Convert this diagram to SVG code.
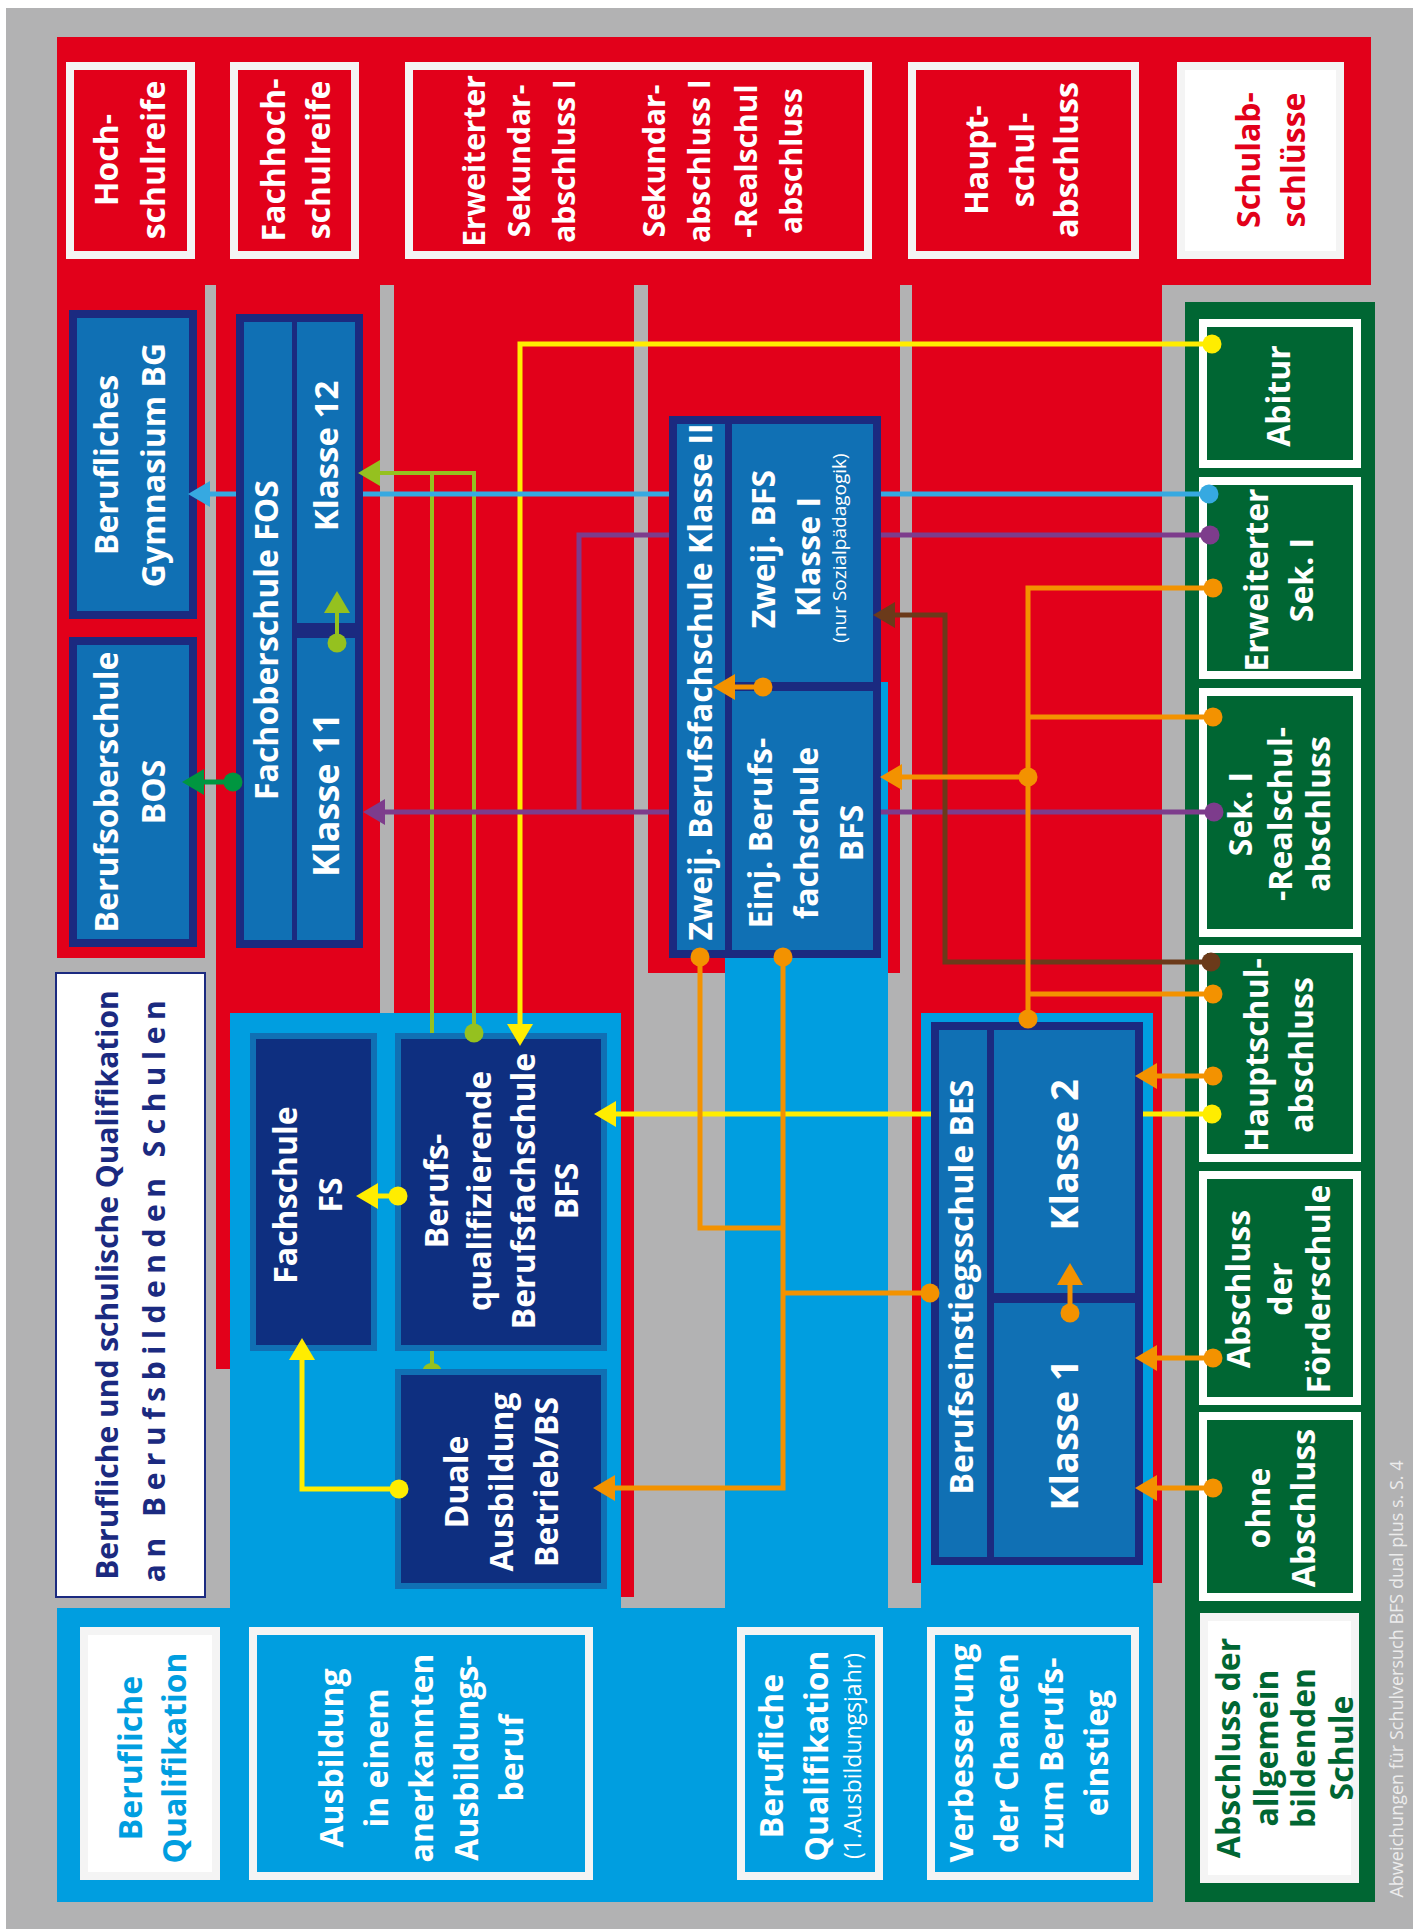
<svg xmlns="http://www.w3.org/2000/svg" width="1417" height="1929" viewBox="0 0 1417 1929">
<defs>
<style>
.t{font-family:"Open Sans","Noto Sans","DejaVu Sans",sans-serif;font-weight:700;font-size:32px;fill:#fff;text-anchor:middle}
.sm{font-weight:400;font-size:19px}
.fn{font-family:"Open Sans","Noto Sans","DejaVu Sans",sans-serif;font-weight:400;font-size:18px;fill:#ececec;text-anchor:middle}
.tr{fill:#e2001a}.tn{fill:#1b2a80}.tg{fill:#006633}.tb{fill:#009ee0}
.red{fill:#e2001a}.lb{fill:#009ee0}
.hdr{fill:#e2001a;stroke:#f4f4f4;stroke-width:8}
.bx{fill:#1070b4;stroke:#1b2a80;stroke-width:8}
.dv{fill:#1b2a80}
.nb{fill:#0e2f80;stroke:#1070b4;stroke-width:6}
.gb{fill:#006633;stroke:#fff;stroke-width:8}
.wb{fill:#fff;stroke:#f4f4f4;stroke-width:8}
.lbb{fill:#009ee0;stroke:#f4f4f4;stroke-width:8}
.cn{fill:none;stroke-width:5}
.cy{stroke:#ffed00}.cl{stroke:#95c11f;stroke-width:4}.cc{stroke:#36a9e1}.cp{stroke:#7d3c8c}.cb{stroke:#6b3a1a}.co{stroke:#f39200}.cg{stroke:#009640}
</style>
<marker id="ay" markerUnits="userSpaceOnUse" markerWidth="24" markerHeight="28" viewBox="0 -14 24 28" refX="0" refY="0" orient="auto"><path d="M0,-13 L22,0 L0,13 z" fill="#ffed00"/></marker>
<marker id="dy" markerUnits="userSpaceOnUse" markerWidth="22" markerHeight="22" viewBox="-11 -11 22 22" refX="0" refY="0"><circle r="9.5" fill="#ffed00"/></marker>
<marker id="al" markerUnits="userSpaceOnUse" markerWidth="24" markerHeight="28" viewBox="0 -14 24 28" refX="0" refY="0" orient="auto"><path d="M0,-13 L22,0 L0,13 z" fill="#95c11f"/></marker>
<marker id="dl" markerUnits="userSpaceOnUse" markerWidth="22" markerHeight="22" viewBox="-11 -11 22 22" refX="0" refY="0"><circle r="9.5" fill="#95c11f"/></marker>
<marker id="ac" markerUnits="userSpaceOnUse" markerWidth="24" markerHeight="28" viewBox="0 -14 24 28" refX="0" refY="0" orient="auto"><path d="M0,-13 L22,0 L0,13 z" fill="#36a9e1"/></marker>
<marker id="dc" markerUnits="userSpaceOnUse" markerWidth="22" markerHeight="22" viewBox="-11 -11 22 22" refX="0" refY="0"><circle r="9.5" fill="#36a9e1"/></marker>
<marker id="ap" markerUnits="userSpaceOnUse" markerWidth="24" markerHeight="28" viewBox="0 -14 24 28" refX="0" refY="0" orient="auto"><path d="M0,-13 L22,0 L0,13 z" fill="#7d3c8c"/></marker>
<marker id="dp" markerUnits="userSpaceOnUse" markerWidth="22" markerHeight="22" viewBox="-11 -11 22 22" refX="0" refY="0"><circle r="9.5" fill="#7d3c8c"/></marker>
<marker id="ab" markerUnits="userSpaceOnUse" markerWidth="24" markerHeight="28" viewBox="0 -14 24 28" refX="0" refY="0" orient="auto"><path d="M0,-13 L22,0 L0,13 z" fill="#6b3a1a"/></marker>
<marker id="db" markerUnits="userSpaceOnUse" markerWidth="22" markerHeight="22" viewBox="-11 -11 22 22" refX="0" refY="0"><circle r="9.5" fill="#6b3a1a"/></marker>
<marker id="ao" markerUnits="userSpaceOnUse" markerWidth="24" markerHeight="28" viewBox="0 -14 24 28" refX="0" refY="0" orient="auto"><path d="M0,-13 L22,0 L0,13 z" fill="#f39200"/></marker>
<marker id="do" markerUnits="userSpaceOnUse" markerWidth="22" markerHeight="22" viewBox="-11 -11 22 22" refX="0" refY="0"><circle r="9.5" fill="#f39200"/></marker>
<marker id="ag" markerUnits="userSpaceOnUse" markerWidth="24" markerHeight="28" viewBox="0 -14 24 28" refX="0" refY="0" orient="auto"><path d="M0,-13 L22,0 L0,13 z" fill="#009640"/></marker>
<marker id="dg" markerUnits="userSpaceOnUse" markerWidth="22" markerHeight="22" viewBox="-11 -11 22 22" refX="0" refY="0"><circle r="9.5" fill="#009640"/></marker>
</defs>

<g id="background">
<rect x="0" y="0" width="1417" height="1929" fill="#fff"/>
<rect x="6" y="8" width="1407" height="1921" fill="#b2b2b3"/>
<rect class="red" x="57" y="37" width="1314" height="248"/>
<rect class="red" x="57" y="284" width="148" height="674"/>
<rect class="red" x="216" y="284" width="164" height="1085"/>
<rect class="red" x="394" y="284" width="240" height="1313"/>
<rect class="red" x="648" y="284" width="252" height="689"/>
<rect class="red" x="912" y="284" width="250" height="1299"/>
<rect class="lb" x="230" y="1013" width="391" height="595"/>
<rect class="lb" x="725" y="682" width="163" height="926"/>
<rect class="lb" x="921" y="1013" width="232" height="889"/>
<rect class="lb" x="57" y="1608" width="1096" height="294"/>
<rect x="1185" y="302" width="190" height="1600" fill="#006633"/>
</g>

<g id="h-hochschulreife"><rect class="hdr" x="70" y="66" width="121" height="189"/>
<text class="t" transform="translate(0,160) rotate(-90)"><tspan x="0" y="118">Hoch-</tspan><tspan x="0" y="165">schulreife</tspan></text></g>
<g id="h-fachhochschulreife"><rect class="hdr" x="234" y="66" width="121" height="189"/>
<text class="t" transform="translate(0,160) rotate(-90)"><tspan x="0" y="285">Fachhoch-</tspan><tspan x="0" y="330">schulreife</tspan></text></g>
<g id="h-sekundar"><rect class="hdr" x="409" y="66" width="459" height="189"/>
<text class="t" style="font-size:30px" transform="translate(0,161) rotate(-90)"><tspan x="0" y="485">Erweiterter</tspan><tspan x="0" y="530">Sekundar-</tspan><tspan x="0" y="575">abschluss I</tspan><tspan x="0" y="665">Sekundar-</tspan><tspan x="0" y="710">abschluss I</tspan><tspan x="0" y="757">-Realschul</tspan><tspan x="0" y="802">abschluss</tspan></text></g>
<g id="h-hauptschulabschluss"><rect class="hdr" x="912" y="66" width="223" height="189"/>
<text class="t" transform="translate(0,160) rotate(-90)"><tspan x="0" y="988">Haupt-</tspan><tspan x="0" y="1034">schul-</tspan><tspan x="0" y="1078">abschluss</tspan></text></g>
<g id="h-schulabschluesse"><rect class="wb" x="1181" y="66" width="159" height="189"/>
<text class="t tr" transform="translate(0,160) rotate(-90)"><tspan x="0" y="1260">Schulab-</tspan><tspan x="0" y="1305">schlüsse</tspan></text></g>

<g id="n-bg"><rect class="bx" x="73" y="314" width="120" height="301"/>
<text class="t" transform="translate(0,465) rotate(-90)"><tspan x="0" y="118">Berufliches</tspan><tspan x="0" y="165">Gymnasium BG</tspan></text></g>
<g id="n-bos"><rect class="bx" x="73" y="641" width="120" height="302"/>
<text class="t" transform="translate(0,792) rotate(-90)"><tspan x="0" y="118">Berufsoberschule</tspan><tspan x="0" y="165">BOS</tspan></text></g>
<g id="n-fos"><rect class="bx" x="240" y="318" width="119" height="626"/>
<rect class="dv" x="292" y="318" width="5" height="626"/>
<rect class="dv" x="297" y="623" width="62" height="15"/>
<text class="t" transform="translate(0,640) rotate(-90)"><tspan x="0" y="278">Fachoberschule FOS</tspan></text>
<text class="t" style="font-size:33px" transform="translate(0,456) rotate(-90)"><tspan x="0" y="338">Klasse 12</tspan></text>
<text class="t" style="font-size:36px" transform="translate(0,795) rotate(-90)"><tspan x="0" y="339">Klasse 11</tspan></text></g>

<g id="n-bfs2"><rect class="bx" x="673" y="420" width="204" height="534"/>
<rect class="dv" x="725" y="420" width="7" height="534"/>
<rect class="dv" x="732" y="682" width="145" height="9"/>
<text class="t" transform="translate(0,682) rotate(-90)"><tspan x="0" y="712">Zweij. Berufsfachschule Klasse II</tspan></text>
<text class="t" transform="translate(0,549) rotate(-90)"><tspan x="0" y="775">Zweij. BFS</tspan></text>
<text class="t" transform="translate(0,557) rotate(-90)"><tspan x="0" y="820">Klasse I</tspan></text>
<text class="t sm" transform="translate(0,548) rotate(-90)"><tspan x="0" y="846">(nur Sozialpädagogik)</tspan></text>
<text class="t" transform="translate(0,833) rotate(-90)"><tspan x="0" y="772">Einj. Berufs-</tspan><tspan x="0" y="818">fachschule</tspan><tspan x="0" y="863">BFS</tspan></text></g>

<g id="n-title"><rect x="56" y="973" width="149" height="624" fill="#fff" stroke="#1b2a80" stroke-width="2"/>
<text class="t tn" style="font-size:30px" transform="translate(0,1285) rotate(-90)"><tspan x="0" y="118">Berufliche und schulische Qualifikation</tspan></text>
<text class="t tn" style="font-size:30px;letter-spacing:6.5px" transform="translate(0,1288) rotate(-90)"><tspan x="0" y="165">an Berufsbildenden Schulen</tspan></text></g>

<g id="n-fs"><rect class="nb" x="253" y="1036" width="121" height="312"/>
<text class="t" transform="translate(0,1195) rotate(-90)"><tspan x="0" y="297">Fachschule</tspan><tspan x="0" y="342">FS</tspan></text></g>
<g id="n-bqbfs"><rect class="nb" x="398" y="1036" width="206" height="312"/>
<text class="t" transform="translate(0,1191) rotate(-90)"><tspan x="0" y="448">Berufs-</tspan><tspan x="0" y="491">qualifizierende</tspan><tspan x="0" y="535">Berufsfachschule</tspan><tspan x="0" y="578">BFS</tspan></text></g>

<g id="connectors-under">
<path class="cn cl" d="M432,1369 V1351"/>
<path d="M422.5,1370 A10,10 0 0 1 441.5,1370 Z" fill="#95c11f"/>
</g>

<g id="n-duale"><rect class="nb" x="398" y="1372" width="206" height="214"/>
<text class="t" transform="translate(0,1482) rotate(-90)"><tspan x="0" y="468">Duale</tspan><tspan x="0" y="513">Ausbildung</tspan><tspan x="0" y="558">Betrieb/BS</tspan></text></g>

<g id="n-bes"><rect class="bx" x="935" y="1026" width="204" height="535"/>
<rect class="dv" x="987" y="1026" width="7" height="535"/>
<rect class="dv" x="994" y="1293" width="145" height="10"/>
<text class="t" transform="translate(0,1287) rotate(-90)"><tspan x="0" y="973">Berufseinstiegsschule BES</tspan></text>
<text class="t" style="font-size:38px" transform="translate(0,1155) rotate(-90)"><tspan x="0" y="1078">Klasse 2</tspan></text>
<text class="t" style="font-size:38px" transform="translate(0,1435) rotate(-90)"><tspan x="0" y="1078">Klasse 1</tspan></text></g>

<g id="g-abitur"><rect class="gb" x="1203" y="323" width="154" height="141"/>
<text class="t" transform="translate(0,396) rotate(-90)"><tspan x="0" y="1290">Abitur</tspan></text></g>
<g id="g-erwsek"><rect class="gb" x="1203" y="481" width="154" height="194"/>
<text class="t" transform="translate(0,580) rotate(-90)"><tspan x="0" y="1268">Erweiterter</tspan><tspan x="0" y="1313">Sek. I</tspan></text></g>
<g id="g-realschul"><rect class="gb" x="1203" y="692" width="154" height="241"/>
<text class="t" transform="translate(0,814) rotate(-90)"><tspan x="0" y="1252">Sek. I</tspan><tspan x="0" y="1292">-Realschul-</tspan><tspan x="0" y="1330">abschluss</tspan></text></g>
<g id="g-hauptschul"><rect class="gb" x="1203" y="949" width="154" height="209"/>
<text class="t" transform="translate(0,1055) rotate(-90)"><tspan x="0" y="1268">Hauptschul-</tspan><tspan x="0" y="1313">abschluss</tspan></text></g>
<g id="g-foerder"><rect class="gb" x="1203" y="1175" width="154" height="226"/>
<text class="t" transform="translate(0,1289) rotate(-90)"><tspan x="0" y="1250">Abschluss</tspan><tspan x="0" y="1292">der</tspan><tspan x="0" y="1330">Förderschule</tspan></text></g>
<g id="g-ohne"><rect class="gb" x="1203" y="1416" width="154" height="181"/>
<text class="t" transform="translate(0,1508) rotate(-90)"><tspan x="0" y="1270">ohne</tspan><tspan x="0" y="1315">Abschluss</tspan></text></g>
<g id="g-allgemein"><rect class="wb" x="1204" y="1617" width="151" height="262"/>
<text class="t tg" transform="translate(0,1748) rotate(-90)"><tspan x="0" y="1240">Abschluss der</tspan><tspan x="0" y="1278">allgemein</tspan><tspan x="0" y="1315">bildenden</tspan><tspan x="0" y="1353">Schule</tspan></text></g>
<text class="fn" transform="translate(0,1679) rotate(-90)"><tspan x="0" y="1403">Abweichungen für Schulversuch BFS dual plus s. S. 4</tspan></text>

<g id="q-beruflich"><rect class="wb" x="84" y="1631" width="132" height="245"/>
<text class="t tb" transform="translate(0,1758) rotate(-90)"><tspan x="0" y="142">Berufliche</tspan><tspan x="0" y="186">Qualifikation</tspan></text></g>
<g id="q-ausbildung"><rect class="lbb" x="253" y="1631" width="336" height="245"/>
<text class="t" transform="translate(0,1758) rotate(-90)"><tspan x="0" y="343">Ausbildung</tspan><tspan x="0" y="388">in einem</tspan><tspan x="0" y="433">anerkannten</tspan><tspan x="0" y="478">Ausbildungs-</tspan><tspan x="0" y="523">beruf</tspan></text></g>
<g id="q-ausbildungsjahr"><rect class="lbb" x="741" y="1631" width="138" height="245"/>
<text class="t" transform="translate(0,1756) rotate(-90)"><tspan x="0" y="783">Berufliche</tspan><tspan x="0" y="828">Qualifikation</tspan><tspan x="0" y="861" style="font-weight:400;font-size:23px">(1.Ausbildungsjahr)</tspan></text></g>
<g id="q-verbesserung"><rect class="lbb" x="931" y="1631" width="204" height="245"/>
<text class="t" transform="translate(0,1753) rotate(-90)"><tspan x="0" y="973">Verbesserung</tspan><tspan x="0" y="1018">der Chancen</tspan><tspan x="0" y="1063">zum Berufs-</tspan><tspan x="0" y="1108">einstieg</tspan></text></g>

<g id="connectors">
<path class="cn cy" d="M1212,344 H520 V1024" marker-start="url(#dy)" marker-end="url(#ay)"/>
<path class="cn cy" d="M1212,1114 H1143" marker-start="url(#dy)"/>
<path class="cn cy" d="M931,1114 H616" marker-end="url(#ay)"/>
<path class="cn cy" d="M399,1489 H302 V1360" marker-start="url(#dy)" marker-end="url(#ay)"/>
<path class="cn cy" d="M398,1196 H378" marker-start="url(#dy)" marker-end="url(#ay)"/>
<path class="cn cl" d="M474,1033 V473 H380" marker-start="url(#dl)" marker-end="url(#al)"/>
<path class="cn cl" d="M432,473 V1033"/>
<path class="cn cl" d="M337,643 V613" marker-start="url(#dl)" marker-end="url(#al)"/>
<path class="cn cc" d="M1209,494 H881" marker-start="url(#dc)"/>
<path class="cn cc" d="M669,494 H363"/>
<path class="cn cc" d="M236,494 H210" marker-end="url(#ac)"/>
<path class="cn cp" d="M1210,535 H881" marker-start="url(#dp)"/>
<path class="cn cp" d="M669,535 H579 V812"/>
<path class="cn cp" d="M1214,812 H881" marker-start="url(#dp)"/>
<path class="cn cp" d="M669,812 H385" marker-end="url(#ap)"/>
<path class="cn cb" d="M1211,962 H945 V615 H895" marker-start="url(#db)" marker-end="url(#ab)"/>
<path class="cn co" d="M1028,1019 V588 H1213" marker-start="url(#do)" marker-end="url(#do)"/>
<path class="cn co" d="M1028,717 H1213" marker-end="url(#do)"/>
<path class="cn co" d="M1028,994 H1213" marker-end="url(#do)"/>
<path class="cn co" d="M1028,777 H902" marker-start="url(#do)" marker-end="url(#ao)"/>
<path class="cn co" d="M1213,1076 H1157" marker-start="url(#do)" marker-end="url(#ao)"/>
<path class="cn co" d="M1213,1358 H1157" marker-start="url(#do)" marker-end="url(#ao)"/>
<path class="cn co" d="M1213,1488 H1157" marker-start="url(#do)" marker-end="url(#ao)"/>
<path class="cn co" d="M1070,1313 V1285" marker-start="url(#do)" marker-end="url(#ao)"/>
<path class="cn co" d="M930,1293 H783" marker-start="url(#do)"/>
<path class="cn co" d="M783,957 V1488 H615" marker-start="url(#do)" marker-end="url(#ao)"/>
<path class="cn co" d="M700,957 V1228 H783" marker-start="url(#do)"/>
<path class="cn co" d="M763,687 H735" marker-start="url(#do)" marker-end="url(#ao)"/>
<path class="cn cg" d="M233,782 H204" marker-start="url(#dg)" marker-end="url(#ag)"/>
</g>
</svg>
